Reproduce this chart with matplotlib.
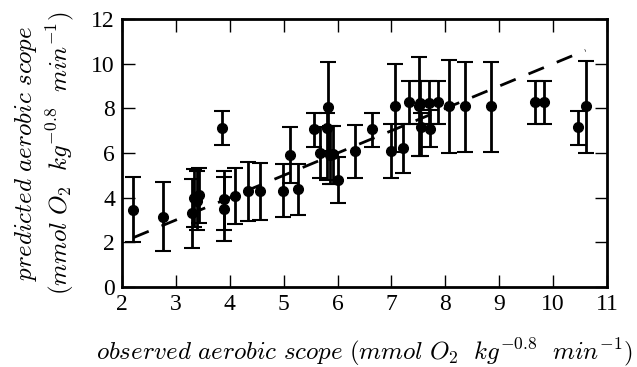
import numpy as np
import matplotlib
matplotlib.use('Agg')
import matplotlib.pyplot as plt

plt.rcParams['font.family'] = 'Liberation Serif'
plt.rcParams['mathtext.fontset'] = 'cm'

# observed vs predicted aerobic scope, with error bar limits
observed = [2.21, 2.77, 3.30, 3.34, 3.40, 3.43, 3.85, 3.90, 3.90, 4.10, 4.33,
            4.56, 4.99, 5.12, 5.27, 5.56, 5.67, 5.81, 5.82, 5.86, 5.92, 6.00,
            6.32, 6.64, 7.00, 7.06, 7.21, 7.33, 7.52, 7.53, 7.54, 7.70, 7.71,
            7.87, 8.07, 8.36, 8.85, 9.67, 9.83, 10.47, 10.60]
predicted = [3.45, 3.15, 3.30, 4.00, 3.85, 4.12, 7.13, 3.93, 3.48, 4.08, 4.31,
             4.30, 4.30, 5.91, 4.37, 7.06, 6.02, 7.10, 8.07, 5.90, 5.96, 4.79,
             6.10, 7.06, 6.09, 8.10, 6.24, 8.30, 8.10, 8.25, 7.18, 8.25, 7.06,
             8.30, 8.10, 8.10, 8.10, 8.30, 8.30, 7.15, 8.10]
upper = [4.93, 4.70, 4.85, 5.28, 5.20, 5.34, 7.88, 5.20, 4.94, 5.34, 5.60,
         5.54, 5.49, 7.15, 5.51, 7.80, 7.18, 7.80, 10.09, 7.20, 7.20, 5.84,
         7.25, 7.78, 7.30, 10.00, 7.30, 9.24, 10.28, 9.24, 7.78, 9.24, 7.93,
         9.24, 10.16, 10.07, 10.07, 9.24, 9.24, 7.90, 10.13]
lower = [2.00, 1.61, 1.76, 2.70, 2.55, 2.87, 6.36, 2.55, 2.07, 2.82, 2.97,
         3.00, 3.12, 4.64, 3.22, 6.28, 4.87, 4.79, 6.10, 4.60, 4.60, 3.75,
         4.90, 6.28, 4.90, 6.06, 5.12, 7.30, 5.87, 7.30, 5.87, 7.30, 6.28,
         7.30, 5.99, 6.06, 6.06, 7.30, 7.30, 6.36, 5.99]

observed = np.array(observed)
predicted = np.array(predicted)
yerr = [predicted - np.array(lower), np.array(upper) - predicted]

fig = plt.figure(figsize=(6.37, 3.67), dpi=100)
ax = fig.add_axes([0.1915, 0.218, 0.7615, 0.73])

ax.errorbar(observed, predicted, yerr=yerr, fmt='o', color='black',
            markersize=7, elinewidth=2, capsize=5.5, capthick=1.5)

# 1:1 line
line_x = np.array([observed.min(), observed.max()])
ax.plot(line_x, line_x, color='black', lw=2, dashes=(6, 5))

ax.set_xlim(2, 11)
ax.set_ylim(0, 12)
ax.set_xticks(range(2, 12))
ax.set_yticks(range(0, 13, 2))
ax.tick_params(direction='in', length=9, width=1, top=True, right=True,
               labelsize=17, pad=5)
for s in ax.spines.values():
    s.set_linewidth(2)

ax.set_xlabel(r'$observed\ aerobic\ scope\ (mmol\ O_2\ \ kg^{-0.8}\ \ min^{-1})$',
              fontsize=18, labelpad=15)
ax.set_ylabel('$predicted\\ aerobic\\ scope$\n$(mmol\\ O_2\\ \\ kg^{-0.8}\\ \\ min^{-1})$',
              fontsize=18, labelpad=11, linespacing=1.25)

fig.savefig('out.png', dpi=100)
